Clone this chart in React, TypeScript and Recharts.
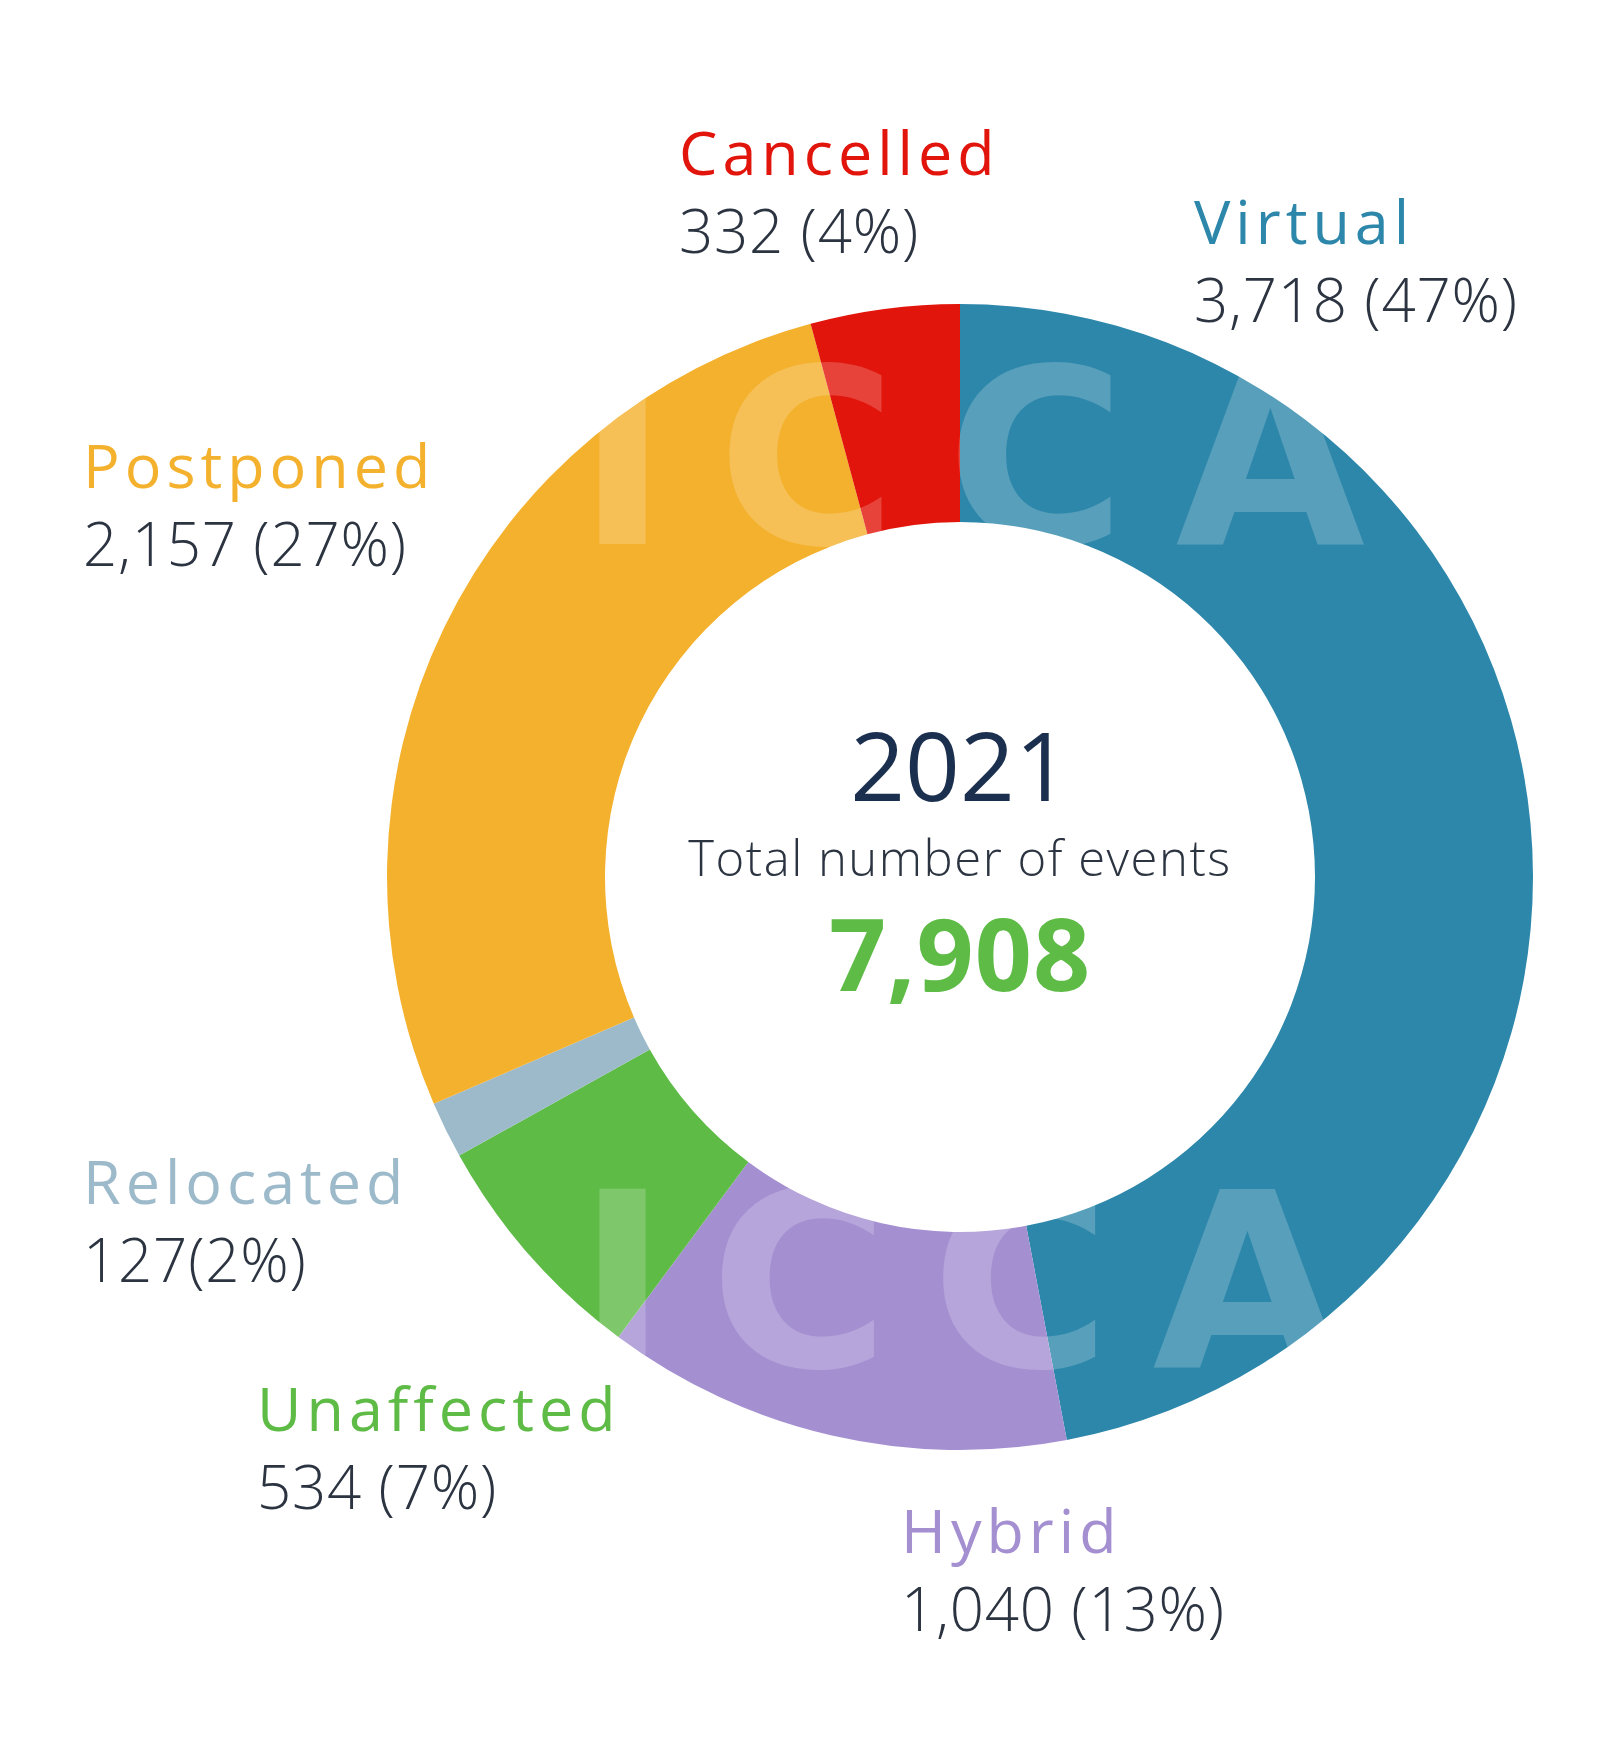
import React from "react";
import { PieChart, Pie, Cell } from "recharts";

const categories = ["Virtual", "Hybrid", "Unaffected", "Relocated", "Postponed", "Cancelled"];
const counts = [3718, 1040, 534, 127, 2157, 332];
const valueLabels = ["3,718 (47%)", "1,040 (13%)", "534 (7%)", "127(2%)", "2,157 (27%)", "332 (4%)"];
const centerYear = "2021";
const centerCaption = "Total number of events";
const centerTotal = "7,908";
const watermark = "ICCA";

const colors = ["#2D87AA", "#A48FD1", "#5EBB46", "#9DBACB", "#F4B12D", "#E1150B"];
// label anchor positions (left x, label baseline) in chart pixels
const labelPos: [number, number][] = [
  [1194, 244],
  [901, 1553],
  [257, 1431],
  [83, 1204],
  [83, 488],
  [679, 175],
];

const data = categories.map((name, i) => ({ name, value: counts[i] }));

const W = 1600;
const H = 1740;
const CX = 960;
const CY = 877;
const FONT = "'Open Sans', 'Noto Sans', sans-serif";
const WM_FONT = "'DejaVu Sans', 'Open Sans', sans-serif";

export default function App() {
  return (
    <div style={{ position: "absolute", left: 0, top: 0, width: W, height: H, background: "#fff" }}>
      <PieChart width={W} height={H} margin={{ top: 0, right: 0, bottom: 0, left: 0 }}>
        <Pie
          data={data}
          dataKey="value"
          nameKey="name"
          cx={CX}
          cy={CY}
          innerRadius={355}
          outerRadius={573}
          startAngle={90}
          endAngle={-270}
          stroke="none"
          isAnimationActive={false}
        >
          {data.map((d, i) => (
            <Cell key={d.name} fill={colors[i]} />
          ))}
        </Pie>
        <g>
          {categories.map((c, i) => (
            <g key={c}>
              <text x={labelPos[i][0]} y={labelPos[i][1]} fontFamily={FONT} fontWeight={500} fontSize={61} letterSpacing={5} fill={colors[i]}>
                {c}
              </text>
              <text x={labelPos[i][0]} y={labelPos[i][1] + 78} fontFamily={FONT} fontWeight={300} fontSize={60} letterSpacing={0.8} fill="#2B3440">
                {valueLabels[i]}
              </text>
            </g>
          ))}
        </g>
        <g>
          <text x={CX} y={801} textAnchor="middle" fontFamily={FONT} fontWeight={500} fontSize={96} fill="#1B2F4E">
            {centerYear}
          </text>
          <text x={CX} y={876} textAnchor="middle" fontFamily={FONT} fontWeight={300} fontSize={49} letterSpacing={1.5} fill="#2B3440">
            {centerCaption}
          </text>
          <text x={CX} y={991} textAnchor="middle" fontFamily={FONT} fontWeight={700} fontSize={100} letterSpacing={1} fill="#5EBB46">
            {centerTotal}
          </text>
        </g>
      </PieChart>
      <svg
        width={W}
        height={H}
        style={{ position: "absolute", left: 0, top: 0, pointerEvents: "none" }}
      >
        <text x={577} y={544} fontFamily={WM_FONT} fontWeight={700} fontSize={245} textLength={788} lengthAdjust="spacing" fill="#ffffff" fillOpacity={0.2}>
          {watermark}
        </text>
        <text x={577} y={1367} fontFamily={WM_FONT} fontWeight={700} fontSize={245} textLength={765} lengthAdjust="spacing" fill="#ffffff" fillOpacity={0.2}>
          {watermark}
        </text>
      </svg>
    </div>
  );
}
